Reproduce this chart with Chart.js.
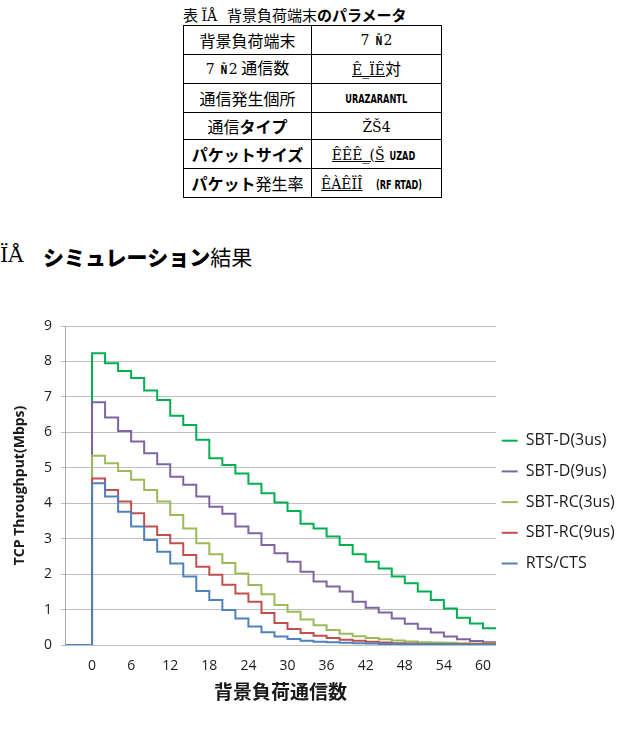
<!DOCTYPE html>
<html lang="ja">
<head>
<meta charset="utf-8">
<title>シミュレーション結果</title>
<script src="https://cdn.jsdelivr.net/npm/chart.js@4.4.0/dist/chart.umd.min.js"></script>
<style>
    body { margin: 0; width: 618px; height: 735px; background: #fff; position: relative; overflow: hidden;
           font-family: "Noto Sans CJK JP", sans-serif; color: #000; }
    .caption { position: absolute; top: 4px; left: 183px; width: 260px; font-size: 15px; line-height: 22px; white-space: nowrap; }
    .caption .gap { display: inline-block; width: 10px; }
    table { position: absolute; top: 25px; left: 183px; width: 259px; height: 173px; border-collapse: collapse; }
    td { border: 1px solid #000; padding: 0; text-align: center; font-size: 16px; line-height: 20px; }
    td.l { width: 127px; }
    .serif { font-family: "DejaVu Serif", serif; font-size: 14px; }
    .mj { display: inline-block; font-family: "DejaVu Sans Condensed", sans-serif; font-weight: bold; font-size: 13px; transform: scaleX(0.7); }
    .headNo { position: absolute; top: 240px; left: 0; font-family: "DejaVu Serif", serif; font-size: 21px; line-height: 30px; }
    .headText { position: absolute; top: 241px; left: 43px; font-size: 21px; line-height: 30px; white-space: nowrap; }
    .headText b { font-weight: 900; }
    .chartBox { position: absolute; top: 300px; left: 0; width: 618px; height: 420px; }
</style>
</head>
<body>
<div class="caption">表 <span class="serif">ÏÅ</span><span class="gap"></span>背景負荷端末<b>のパラメータ</b></div>
<table>
    <tr><td class="l">背景負荷端末</td><td><span class="serif">7 <span class="mj">Ñ</span>2</span></td></tr>
    <tr><td class="l"><span class="serif">7 <span class="mj">Ñ</span>2</span> 通信数</td><td><u class="serif">Ê_ÏÊ</u>対</td></tr>
    <tr><td class="l">通信発生個所</td><td><span class="mj">URAZARANTL</span></td></tr>
    <tr><td class="l">通信<b>タイプ</b></td><td><span class="serif">ŽŠ4</span></td></tr>
    <tr><td class="l"><b>パケットサイズ</b></td><td><u class="serif">ÊÊÊ_(Š</u><span class="mj">UZAD</span></td></tr>
    <tr><td class="l"><b>パケット</b>発生率</td><td><u class="serif">ÊÀÊÏÎ</u> <span class="mj">(RF RTAD)</span></td></tr>
</table>
<div class="headNo">ÏÅ</div>
<div class="headText"><b>シミュレーション</b>結果</div>
<div class="chartBox"><canvas id="throughputChart"></canvas></div>

<script>
document.addEventListener("DOMContentLoaded", function () {
    // step start positions (背景負荷通信数) and throughput on each step
    const stepX = [-4, 0, 2, 4, 6, 8, 10, 12, 14, 16, 18, 20, 22, 24, 26, 28, 30,
                   32, 34, 36, 38, 40, 42, 44, 46, 48, 50, 52, 54, 56, 58, 60, 62];

    const sbtD3 = [0, 8.23, 7.95, 7.73, 7.53, 7.18, 6.91, 6.47, 6.21, 5.79, 5.27, 5.08, 4.84, 4.55, 4.28, 4.02, 3.78,
                   3.42, 3.29, 3.06, 2.82, 2.56, 2.35, 2.16, 1.93, 1.74, 1.51, 1.27, 1.03, 0.77, 0.61, 0.47, 0.48];
    const sbtD9 = [0, 6.85, 6.42, 6.04, 5.74, 5.41, 5.10, 4.75, 4.52, 4.19, 3.90, 3.70, 3.34, 3.15, 2.82, 2.59, 2.35,
                   2.07, 1.79, 1.65, 1.51, 1.22, 1.05, 0.92, 0.75, 0.60, 0.46, 0.35, 0.24, 0.16, 0.11, 0.08, 0.07];
    const sbtRC3 = [0, 5.34, 5.13, 4.91, 4.66, 4.37, 4.05, 3.67, 3.29, 2.87, 2.56, 2.31, 2.02, 1.69, 1.43, 1.13, 0.94,
                    0.72, 0.56, 0.42, 0.32, 0.25, 0.20, 0.16, 0.13, 0.10, 0.08, 0.07, 0.06, 0.05, 0.04, 0.04, 0.04];
    const sbtRC9 = [0, 4.70, 4.37, 4.05, 3.72, 3.34, 3.10, 2.87, 2.54, 2.21, 1.98, 1.70, 1.45, 1.22, 0.90, 0.62, 0.45,
                    0.34, 0.26, 0.20, 0.15, 0.12, 0.09, 0.07, 0.05, 0.04, 0.03, 0.03, 0.02, 0.02, 0.02, 0.02, 0.02];
    const rtsCts = [0, 4.56, 4.19, 3.76, 3.34, 2.96, 2.63, 2.30, 1.93, 1.52, 1.27, 0.99, 0.75, 0.52, 0.36, 0.24, 0.17,
                    0.12, 0.09, 0.08, 0.06, 0.05, 0.04, 0.03, 0.03, 0.02, 0.02, 0.02, 0.02, 0.01, 0.01, 0.01, 0.01];

    const seriesNames = ['SBT-D(3us)', 'SBT-D(9us)', 'SBT-RC(3us)', 'SBT-RC(9us)', 'RTS/CTS'];
    const seriesValues = [sbtD3, sbtD9, sbtRC3, sbtRC9, rtsCts];
    const seriesColors = ['#00B050', '#8064A2', '#9BBB59', '#C0504D', '#4F81BD'];

    const xTickValues = [0, 6, 12, 18, 24, 30, 36, 42, 48, 54, 60];
    const yTickValues = [0, 1, 2, 3, 4, 5, 6, 7, 8, 9];

    const datasets = seriesNames.map((name, i) => ({
        label: name,
        data: stepX.map((x, j) => ({ x: x, y: seriesValues[i][j] })),
        borderColor: seriesColors[i],
        backgroundColor: seriesColors[i],
        borderWidth: 2,
        pointRadius: 0,
        stepped: true,
        fill: false,
        order: seriesNames.length - 1 - i
    }));

    // move the legend next to the plot like the original
    const legendPlace = {
        id: 'legendPlace',
        afterLayout(chart) {
            const legend = chart.legend;
            legend.left = chart.chartArea.right - 9;
            legend.top = 118;
        }
    };

    const ctx = document.getElementById('throughputChart').getContext('2d');
    new Chart(ctx, {
        type: 'line',
        data: { datasets: datasets },
        plugins: [legendPlace],
        options: {
            responsive: true,
            maintainAspectRatio: false,
            animation: false,
            layout: { padding: { top: 26, left: 0, right: 0, bottom: 0 } },
            plugins: {
                tooltip: { enabled: false },
                legend: {
                    position: 'right',
                    align: 'start',
                    maxWidth: 122,
                    labels: {
                        usePointStyle: true,
                        pointStyleWidth: 16,
                        pointStyle: 'line',
                        padding: 14.7,
                        color: '#1a1a1a',
                        font: { family: '"Open Sans", sans-serif', size: 16 },
                        sort: (a, b) => a.datasetIndex - b.datasetIndex
                    }
                }
            },
            scales: {
                x: {
                    type: 'linear',
                    min: -4.15,
                    max: 62,
                    afterBuildTicks: axis => { axis.ticks = xTickValues.map(v => ({ value: v })); },
                    afterFit: axis => { axis.height = 75; },
                    grid: { display: false, drawTicks: false },
                    border: { display: false },
                    ticks: {
                        padding: 13,
                        maxRotation: 0,
                        autoSkip: false,
                        color: '#1a1a1a',
                        font: { family: '"Open Sans", sans-serif', size: 14 }
                    },
                    title: {
                        display: true,
                        text: '背景負荷通信数',
                        color: '#1a1a1a',
                        font: { family: '"Noto Sans CJK JP", sans-serif', size: 19, weight: 'bold' },
                        padding: { top: 0, bottom: 17 }
                    }
                },
                y: {
                    min: 0,
                    max: 9,
                    afterBuildTicks: axis => { axis.ticks = yTickValues.map(v => ({ value: v })); },
                    afterFit: axis => { axis.width = 65; },
                    grid: { color: '#BFBFBF', drawTicks: true, tickLength: 4 },
                    border: { display: true, color: '#A6A6A6' },
                    ticks: {
                        padding: 9,
                        color: '#1a1a1a',
                        font: { family: '"Open Sans", sans-serif', size: 14 }
                    },
                    title: {
                        display: true,
                        text: 'TCP Throughput(Mbps)',
                        color: '#1a1a1a',
                        font: { family: '"Open Sans", sans-serif', size: 14, weight: 'bold' },
                        padding: { top: 12, bottom: 0 }
                    }
                }
            }
        }
    });
});
</script>
</body>
</html>
